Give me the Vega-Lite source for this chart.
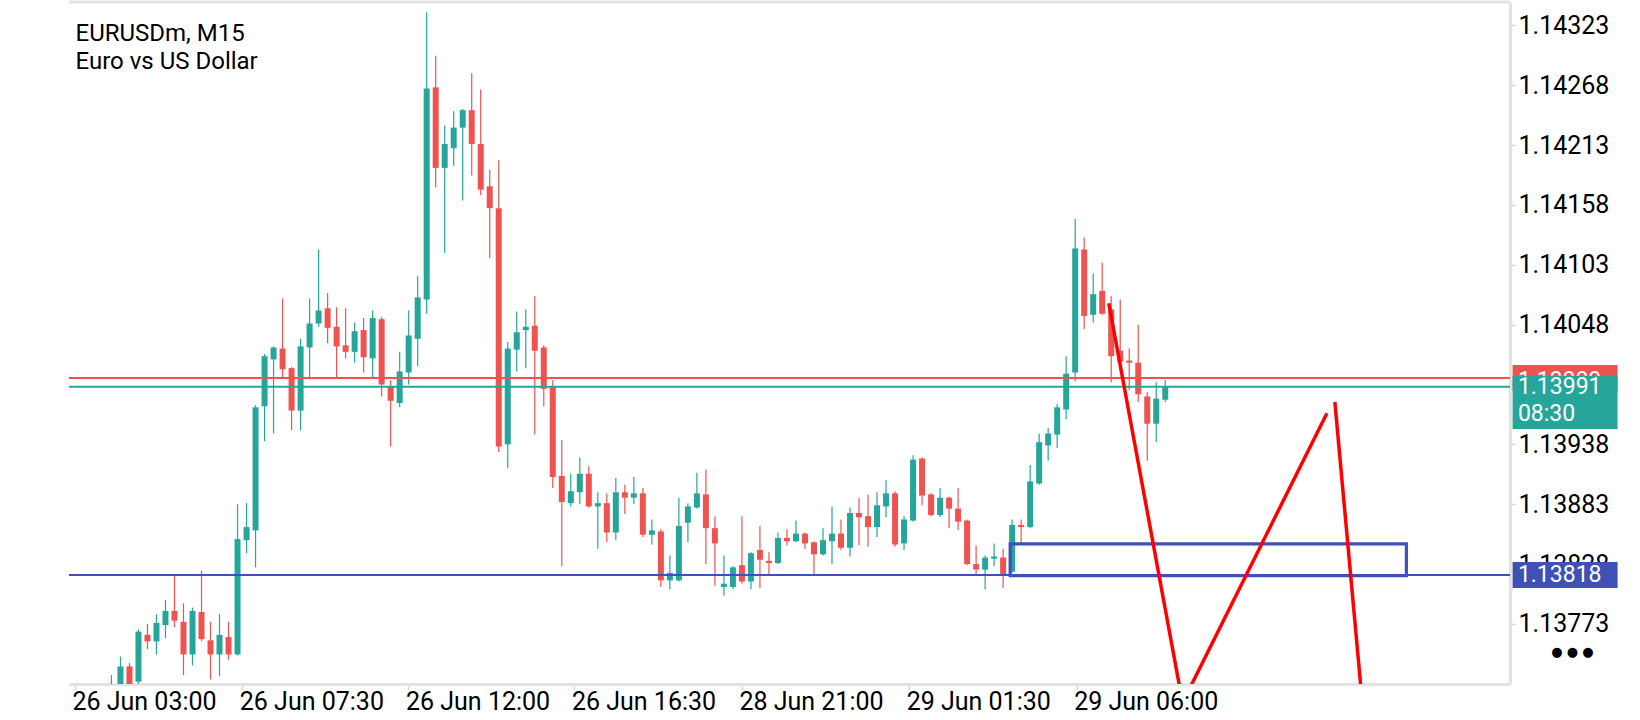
{
  "$schema": "https://vega.github.io/schema/vega-lite/v6.json",
  "width": 1441,
  "height": 682,
  "autosize": {"type": "none"},
  "padding": {"left": 69, "top": 2, "right": 130, "bottom": 36},
  "background": "white",
  "title": {
    "text": ["EURUSDm, M15", "Euro vs US Dollar"],
    "anchor": "start", "frame": "group", "orient": "top", "offset": -52,
    "baseline": "alphabetic", "dy": 40, "dx": 6.5,
    "font": "Roboto", "fontSize": 24, "fontWeight": "normal", "color": "#000000", "lineHeight": 28
  },
  "datasets": {
    "candles": [
      {"i":0,"o":1.13703,"h":1.13726,"l":1.13694,"c":1.13712},
      {"i":1,"o":1.13712,"h":1.13743,"l":1.13703,"c":1.13734},
      {"i":2,"o":1.13734,"h":1.13737,"l":1.13703,"c":1.13712},
      {"i":3,"o":1.13720,"h":1.13768,"l":1.13703,"c":1.13766},
      {"i":4,"o":1.13763,"h":1.13773,"l":1.13750,"c":1.13757},
      {"i":5,"o":1.13757,"h":1.13782,"l":1.13745,"c":1.13774},
      {"i":6,"o":1.13772,"h":1.13795,"l":1.13760,"c":1.13785},
      {"i":7,"o":1.13785,"h":1.13818,"l":1.13770,"c":1.13776},
      {"i":8,"o":1.13775,"h":1.13792,"l":1.13726,"c":1.13745},
      {"i":9,"o":1.13745,"h":1.13788,"l":1.13735,"c":1.13785},
      {"i":10,"o":1.13784,"h":1.13822,"l":1.13757,"c":1.13759},
      {"i":11,"o":1.13758,"h":1.13775,"l":1.13722,"c":1.13745},
      {"i":12,"o":1.13745,"h":1.13782,"l":1.13725,"c":1.13763},
      {"i":13,"o":1.13761,"h":1.13775,"l":1.13740,"c":1.13745},
      {"i":14,"o":1.13745,"h":1.13883,"l":1.13744,"c":1.13851},
      {"i":15,"o":1.13850,"h":1.13884,"l":1.13838,"c":1.13862},
      {"i":16,"o":1.13859,"h":1.13974,"l":1.13825,"c":1.13972},
      {"i":17,"o":1.13973,"h":1.14021,"l":1.13941,"c":1.14019},
      {"i":18,"o":1.14016,"h":1.14028,"l":1.13948,"c":1.14027},
      {"i":19,"o":1.14026,"h":1.14072,"l":1.13999,"c":1.14007},
      {"i":20,"o":1.14008,"h":1.14009,"l":1.13951,"c":1.13969},
      {"i":21,"o":1.13969,"h":1.14035,"l":1.13951,"c":1.14028},
      {"i":22,"o":1.14027,"h":1.14072,"l":1.13998,"c":1.14049},
      {"i":23,"o":1.14049,"h":1.14117,"l":1.14046,"c":1.14061},
      {"i":24,"o":1.14063,"h":1.14077,"l":1.14031,"c":1.14045},
      {"i":25,"o":1.14046,"h":1.14064,"l":1.13999,"c":1.14028},
      {"i":26,"o":1.14029,"h":1.14063,"l":1.14017,"c":1.14023},
      {"i":27,"o":1.14023,"h":1.14050,"l":1.14013,"c":1.14042},
      {"i":28,"o":1.14043,"h":1.14054,"l":1.14004,"c":1.14018},
      {"i":29,"o":1.14017,"h":1.14061,"l":1.13998,"c":1.14054},
      {"i":30,"o":1.14053,"h":1.14055,"l":1.13982,"c":1.13993},
      {"i":31,"o":1.13991,"h":1.13997,"l":1.13936,"c":1.13978},
      {"i":32,"o":1.13976,"h":1.14023,"l":1.13972,"c":1.14005},
      {"i":33,"o":1.14004,"h":1.14061,"l":1.13993,"c":1.14038},
      {"i":34,"o":1.14035,"h":1.14093,"l":1.14010,"c":1.14073},
      {"i":35,"o":1.14071,"h":1.14335,"l":1.14058,"c":1.14265},
      {"i":36,"o":1.14266,"h":1.14295,"l":1.14174,"c":1.14192},
      {"i":37,"o":1.14192,"h":1.14231,"l":1.14114,"c":1.14214},
      {"i":38,"o":1.14210,"h":1.14244,"l":1.14194,"c":1.14229},
      {"i":39,"o":1.14229,"h":1.14246,"l":1.14162,"c":1.14245},
      {"i":40,"o":1.14245,"h":1.14279,"l":1.14185,"c":1.14214},
      {"i":41,"o":1.14214,"h":1.14264,"l":1.14167,"c":1.14172},
      {"i":42,"o":1.14175,"h":1.14190,"l":1.14109,"c":1.14155},
      {"i":43,"o":1.14155,"h":1.14199,"l":1.13931,"c":1.13936},
      {"i":44,"o":1.13938,"h":1.14032,"l":1.13916,"c":1.14026},
      {"i":45,"o":1.14025,"h":1.14060,"l":1.14005,"c":1.14041},
      {"i":46,"o":1.14043,"h":1.14062,"l":1.14008,"c":1.14046},
      {"i":47,"o":1.14047,"h":1.14074,"l":1.13947,"c":1.14024},
      {"i":48,"o":1.14027,"h":1.14029,"l":1.13973,"c":1.13989},
      {"i":49,"o":1.13991,"h":1.13997,"l":1.13898,"c":1.13908},
      {"i":50,"o":1.13909,"h":1.13942,"l":1.13826,"c":1.13885},
      {"i":51,"o":1.13884,"h":1.13911,"l":1.13881,"c":1.13895},
      {"i":52,"o":1.13894,"h":1.13926,"l":1.13883,"c":1.13911},
      {"i":53,"o":1.13911,"h":1.13918,"l":1.13880,"c":1.13881},
      {"i":54,"o":1.13881,"h":1.13894,"l":1.13842,"c":1.13884},
      {"i":55,"o":1.13884,"h":1.13893,"l":1.13848,"c":1.13857},
      {"i":56,"o":1.13857,"h":1.13907,"l":1.13850,"c":1.13894},
      {"i":57,"o":1.13894,"h":1.13901,"l":1.13874,"c":1.13889},
      {"i":58,"o":1.13889,"h":1.13908,"l":1.13883,"c":1.13893},
      {"i":59,"o":1.13893,"h":1.13898,"l":1.13853,"c":1.13855},
      {"i":60,"o":1.13855,"h":1.13869,"l":1.13846,"c":1.13859},
      {"i":61,"o":1.13858,"h":1.13860,"l":1.13807,"c":1.13813},
      {"i":62,"o":1.13813,"h":1.13836,"l":1.13805,"c":1.13820},
      {"i":63,"o":1.13813,"h":1.13889,"l":1.13812,"c":1.13863},
      {"i":64,"o":1.13866,"h":1.13884,"l":1.13848,"c":1.13881},
      {"i":65,"o":1.13880,"h":1.13912,"l":1.13879,"c":1.13893},
      {"i":66,"o":1.13892,"h":1.13915,"l":1.13828,"c":1.13861},
      {"i":67,"o":1.13861,"h":1.13872,"l":1.13808,"c":1.13847},
      {"i":68,"o":1.13807,"h":1.13836,"l":1.13799,"c":1.13810},
      {"i":69,"o":1.13807,"h":1.13826,"l":1.13805,"c":1.13825},
      {"i":70,"o":1.13827,"h":1.13872,"l":1.13810,"c":1.13812},
      {"i":71,"o":1.13812,"h":1.13839,"l":1.13805,"c":1.13838},
      {"i":72,"o":1.13841,"h":1.13863,"l":1.13806,"c":1.13832},
      {"i":73,"o":1.13831,"h":1.13839,"l":1.13818,"c":1.13829},
      {"i":74,"o":1.13829,"h":1.13857,"l":1.13828,"c":1.13852},
      {"i":75,"o":1.13852,"h":1.13860,"l":1.13845,"c":1.13849},
      {"i":76,"o":1.13849,"h":1.13868,"l":1.13848,"c":1.13856},
      {"i":77,"o":1.13856,"h":1.13857,"l":1.13842,"c":1.13847},
      {"i":78,"o":1.13848,"h":1.13849,"l":1.13818,"c":1.13837},
      {"i":79,"o":1.13837,"h":1.13861,"l":1.13836,"c":1.13850},
      {"i":80,"o":1.13849,"h":1.13881,"l":1.13828,"c":1.13856},
      {"i":81,"o":1.13856,"h":1.13869,"l":1.13841,"c":1.13843},
      {"i":82,"o":1.13843,"h":1.13880,"l":1.13835,"c":1.13875},
      {"i":83,"o":1.13875,"h":1.13889,"l":1.13845,"c":1.13871},
      {"i":84,"o":1.13872,"h":1.13892,"l":1.13844,"c":1.13862},
      {"i":85,"o":1.13862,"h":1.13894,"l":1.13853,"c":1.13882},
      {"i":86,"o":1.13881,"h":1.13905,"l":1.13871,"c":1.13893},
      {"i":87,"o":1.13893,"h":1.13895,"l":1.13844,"c":1.13846},
      {"i":88,"o":1.13847,"h":1.13872,"l":1.13841,"c":1.13869},
      {"i":89,"o":1.13868,"h":1.13928,"l":1.13867,"c":1.13924},
      {"i":90,"o":1.13925,"h":1.13926,"l":1.13882,"c":1.13891},
      {"i":91,"o":1.13892,"h":1.13893,"l":1.13872,"c":1.13873},
      {"i":92,"o":1.13873,"h":1.13898,"l":1.13871,"c":1.13889},
      {"i":93,"o":1.13889,"h":1.13890,"l":1.13861,"c":1.13879},
      {"i":94,"o":1.13879,"h":1.13898,"l":1.13859,"c":1.13867},
      {"i":95,"o":1.13868,"h":1.13869,"l":1.13827,"c":1.13828},
      {"i":96,"o":1.13828,"h":1.13845,"l":1.13818,"c":1.13823},
      {"i":97,"o":1.13823,"h":1.13836,"l":1.13805,"c":1.13834},
      {"i":98,"o":1.13833,"h":1.13847,"l":1.13826,"c":1.13835},
      {"i":99,"o":1.13834,"h":1.13842,"l":1.13806,"c":1.13818},
      {"i":100,"o":1.13821,"h":1.13869,"l":1.13820,"c":1.13864},
      {"i":101,"o":1.13864,"h":1.13869,"l":1.13847,"c":1.13862},
      {"i":102,"o":1.13862,"h":1.13919,"l":1.13861,"c":1.13904},
      {"i":103,"o":1.13902,"h":1.13948,"l":1.13901,"c":1.13940},
      {"i":104,"o":1.13937,"h":1.13953,"l":1.13923,"c":1.13948},
      {"i":105,"o":1.13947,"h":1.13975,"l":1.13935,"c":1.13972},
      {"i":106,"o":1.13970,"h":1.14019,"l":1.13961,"c":1.14003},
      {"i":107,"o":1.14004,"h":1.14145,"l":1.13996,"c":1.14118},
      {"i":108,"o":1.14117,"h":1.14128,"l":1.14044,"c":1.14056},
      {"i":109,"o":1.14057,"h":1.14095,"l":1.14050,"c":1.14076},
      {"i":110,"o":1.14079,"h":1.14105,"l":1.14057,"c":1.14058},
      {"i":111,"o":1.14062,"h":1.14074,"l":1.13995,"c":1.14019},
      {"i":112,"o":1.14024,"h":1.14071,"l":1.14005,"c":1.14014},
      {"i":113,"o":1.14015,"h":1.14026,"l":1.13988,"c":1.14013},
      {"i":114,"o":1.14013,"h":1.14048,"l":1.13977,"c":1.13984},
      {"i":115,"o":1.13982,"h":1.13986,"l":1.13923,"c":1.13957},
      {"i":116,"o":1.13957,"h":1.13995,"l":1.13940,"c":1.13980},
      {"i":117,"o":1.13979,"h":1.13997,"l":1.13977,"c":1.13991}
    ],
    "levels": [
      {"kind": "ask", "price": 1.13999, "label": "1.13999"},
      {"kind": "bid", "price": 1.13991, "label": "1.13991", "time": "08:30"},
      {"kind": "level", "price": 1.13818, "label": "1.13818"}
    ],
    "zone": [
      {"start": 99.78, "end": 143.77, "top": 1.138465, "bottom": 1.138174}
    ],
    "drawn": [
      {"seg": "a", "n": 0, "i": 110.73, "price": 1.140676},
      {"seg": "a", "n": 1, "i": 118.92, "price": 1.137007},
      {"seg": "a", "n": 2, "i": 134.95, "price": 1.139666},
      {"seg": "b", "n": 0, "i": 135.83, "price": 1.139769},
      {"seg": "b", "n": 1, "i": 139.05, "price": 1.136848}
    ]
  },
  "layer": [
    {
      "data": {"name": "candles"},
      "mark": {"type": "rule", "strokeWidth": 1.2, "clip": true},
      "encoding": {
        "x": {
          "field": "i", "type": "quantitative", "title": null,
          "scale": {"domain": [-4.157, 154.72], "nice": false, "zero": false},
          "axis": {
            "orient": "bottom", "grid": false,
            "values": [-4.05, 14.53, 32.98, 51.41, 70.0, 88.57, 107.16],
            "labelExpr": "datum.value < 0 ? '26 Jun 03:00' : datum.value < 20 ? '26 Jun 07:30' : datum.value < 40 ? '26 Jun 12:00' : datum.value < 60 ? '26 Jun 16:30' : datum.value < 80 ? '28 Jun 21:00' : datum.value < 100 ? '29 Jun 01:30' : '29 Jun 06:00'",
            "domainColor": "#E3E3E3", "domainWidth": 3,
            "tickColor": "#D6D6D6", "tickSize": 6, "tickWidth": 1.5,
            "labelAlign": "left", "labelBaseline": "top", "labelPadding": -1, "labelOffset": -3,
            "labelFont": "Roboto", "labelFontSize": 25, "labelColor": "#000000",
            "labelFlush": false, "labelOverlap": false, "labelBound": false
          }
        },
        "y": {
          "field": "l", "type": "quantitative", "title": null,
          "scale": {"domain": [1.1371785, 1.143444], "nice": false, "zero": false},
          "axis": {
            "orient": "right", "grid": false,
            "values": [1.13773, 1.13828, 1.13883, 1.13938, 1.13993, 1.14048, 1.14103, 1.14158, 1.14213, 1.14268, 1.14323],
            "format": ".5f",
            "domainColor": "#E3E3E3", "domainWidth": 3,
            "tickColor": "#D6D6D6", "tickSize": 5, "tickWidth": 1.5,
            "labelPadding": 3, "labelFont": "Roboto", "labelFontSize": 25, "labelColor": "#000000",
            "labelFlush": false, "labelOverlap": false
          }
        },
        "y2": {"field": "h"},
        "color": {"condition": {"test": "datum.c >= datum.o", "value": "#26A69A"}, "value": "#EF5350"}
      }
    },
    {
      "data": {"name": "candles"},
      "mark": {"type": "bar", "size": 6, "clip": true},
      "encoding": {
        "x": {"field": "i", "type": "quantitative"},
        "y": {"field": "o", "type": "quantitative"},
        "y2": {"field": "c"},
        "color": {"condition": {"test": "datum.c >= datum.o", "value": "#26A69A"}, "value": "#EF5350"}
      }
    },
    {
      "data": {"name": "levels"},
      "mark": {"type": "rule", "strokeWidth": 2},
      "encoding": {
        "y": {"field": "price", "type": "quantitative"},
        "color": {"field": "kind", "type": "nominal", "legend": null,
          "scale": {"domain": ["ask", "bid", "level"], "range": ["#EF5350", "#26A69A", "#3F51B5"]}}
      }
    },
    {
      "data": {"name": "zone"},
      "mark": {"type": "rect", "fill": null, "fillOpacity": 0, "stroke": "#3F51B5", "strokeWidth": 3.2},
      "encoding": {
        "x": {"field": "start", "type": "quantitative"},
        "x2": {"field": "end"},
        "y": {"field": "top", "type": "quantitative"},
        "y2": {"field": "bottom"}
      }
    },
    {
      "data": {"name": "drawn"},
      "mark": {"type": "line", "color": "#FF0000", "strokeWidth": 3.5, "clip": true},
      "encoding": {
        "x": {"field": "i", "type": "quantitative"},
        "y": {"field": "price", "type": "quantitative"},
        "detail": {"field": "seg"},
        "order": {"field": "n"}
      }
    },
    {
      "data": {"values": [{}]},
      "mark": {"type": "rule", "color": "#E3E3E3", "strokeWidth": 3},
      "encoding": {"y": {"datum": 1.143444, "type": "quantitative"}}
    },
    {
      "data": {"name": "levels"},
      "transform": [{"filter": "datum.kind == 'ask'"}],
      "layer": [
        {
          "mark": {"type": "tick", "orient": "vertical", "size": 26, "thickness": 105, "opacity": 1, "clip": false},
          "encoding": {
            "x": {"datum": 161.39, "type": "quantitative"},
            "y": {"field": "price", "type": "quantitative"},
            "color": {"field": "kind", "type": "nominal", "legend": null}
          }
        },
        {
          "mark": {"type": "text", "align": "left", "baseline": "middle", "font": "Roboto", "fontSize": 23, "color": "#FFFFFF", "dy": 3, "clip": false},
          "encoding": {
            "x": {"datum": 156.15, "type": "quantitative"},
            "y": {"field": "price", "type": "quantitative"},
            "text": {"field": "label"}
          }
        }
      ]
    },
    {
      "data": {"name": "levels"},
      "transform": [{"filter": "datum.kind == 'bid'"}],
      "layer": [
        {
          "mark": {"type": "tick", "orient": "vertical", "size": 53.3, "thickness": 105, "yOffset": 15.65, "opacity": 1, "clip": false},
          "encoding": {
            "x": {"datum": 161.39, "type": "quantitative"},
            "y": {"field": "price", "type": "quantitative"},
            "color": {"field": "kind", "type": "nominal", "legend": null}
          }
        },
        {
          "mark": {"type": "text", "align": "left", "baseline": "middle", "font": "Roboto", "fontSize": 23, "color": "#FFFFFF", "clip": false},
          "encoding": {
            "x": {"datum": 156.15, "type": "quantitative"},
            "y": {"field": "price", "type": "quantitative"},
            "text": {"field": "label"}
          }
        },
        {
          "mark": {"type": "text", "align": "left", "baseline": "middle", "font": "Roboto", "fontSize": 23, "color": "#FFFFFF", "dy": 27.8, "clip": false},
          "encoding": {
            "x": {"datum": 156.15, "type": "quantitative"},
            "y": {"field": "price", "type": "quantitative"},
            "text": {"field": "time"}
          }
        }
      ]
    },
    {
      "data": {"name": "levels"},
      "transform": [{"filter": "datum.kind == 'level'"}],
      "layer": [
        {
          "mark": {"type": "tick", "orient": "vertical", "size": 26, "thickness": 105, "opacity": 1, "clip": false},
          "encoding": {
            "x": {"datum": 161.39, "type": "quantitative"},
            "y": {"field": "price", "type": "quantitative"},
            "color": {"field": "kind", "type": "nominal", "legend": null}
          }
        },
        {
          "mark": {"type": "text", "align": "left", "baseline": "middle", "font": "Roboto", "fontSize": 23, "color": "#FFFFFF", "clip": false},
          "encoding": {
            "x": {"datum": 156.15, "type": "quantitative"},
            "y": {"field": "price", "type": "quantitative"},
            "text": {"field": "label"}
          }
        }
      ]
    },
    {
      "data": {"values": [{"more": "●  ●  ●"}]},
      "mark": {"type": "text", "align": "center", "baseline": "middle", "font": "DejaVu Sans", "fontSize": 13, "color": "#000000", "clip": false},
      "encoding": {
        "x": {"datum": 162.2, "type": "quantitative"},
        "y": {"datum": 1.137476, "type": "quantitative"},
        "text": {"field": "more"}
      }
    }
  ],
  "config": {
    "view": {"stroke": null},
    "font": "Roboto"
  }
}
